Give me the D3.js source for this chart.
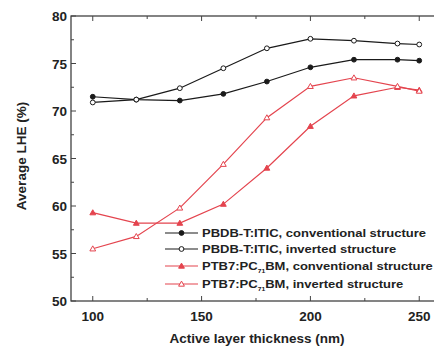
<!DOCTYPE html>
<html>
<head>
<meta charset="utf-8">
<script src="https://cdn.jsdelivr.net/npm/d3@7"></script>
<style>
  html, body { margin: 0; padding: 0; background: #fff; }
  svg { display: block; overflow: hidden; }
</style>
</head>
<body>
<div id="chart"></div>
<script>
const thickness = [100, 120, 140, 160, 180, 200, 220, 240, 250];
const pbdbConventional = [71.5, 71.2, 71.1, 71.8, 73.1, 74.6, 75.4, 75.4, 75.3];
const pbdbInverted = [70.9, 71.2, 72.4, 74.5, 76.6, 77.6, 77.4, 77.1, 77.0];
const ptb7Conventional = [59.3, 58.2, 58.2, 60.2, 64.0, 68.4, 71.6, 72.5, 72.2];
const ptb7Inverted = [55.5, 56.8, 59.8, 64.4, 69.3, 72.6, 73.5, 72.6, 72.1];
const xTicks = [100, 150, 200, 250];
const yTicks = [50, 55, 60, 65, 70, 75, 80];

const series = [
  { name: 'PBDB-T:ITIC, conventional structure', values: pbdbConventional, color: '#1a1a1a', marker: 'circle', filled: true },
  { name: 'PBDB-T:ITIC, inverted structure', values: pbdbInverted, color: '#1a1a1a', marker: 'circle', filled: false },
  { name: 'PTB7:PC71BM, conventional structure', values: ptb7Conventional, color: '#e4444e', marker: 'triangle', filled: true },
  { name: 'PTB7:PC71BM, inverted structure', values: ptb7Inverted, color: '#e4444e', marker: 'triangle', filled: false }
];

const W = 434, H = 346;
const plot = { left: 71, top: 16, right: 441, bottom: 301 };
const textColor = '#222';
const font = '"Liberation Sans", Arial, sans-serif';

const svg = d3.select('#chart').append('svg')
  .attr('width', W)
  .attr('height', H);

const x = d3.scaleLinear().domain([90, 260]).range([plot.left, plot.right]);
const y = d3.scaleLinear().domain([50, 80]).range([plot.bottom, plot.top]);

// frame
svg.append('rect')
  .attr('x', plot.left).attr('y', plot.top)
  .attr('width', plot.right - plot.left).attr('height', plot.bottom - plot.top)
  .attr('fill', 'none').attr('stroke', '#333').attr('stroke-width', 1.2);

// inward ticks, major + minor
const xMinor = [125, 175, 225];
const yMinor = [52.5, 57.5, 62.5, 67.5, 72.5, 77.5];
const tickG = svg.append('g').attr('stroke', '#444').attr('stroke-width', 1);
xTicks.forEach(v => {
  tickG.append('line').attr('x1', x(v)).attr('x2', x(v)).attr('y1', plot.bottom).attr('y2', plot.bottom - 5);
  tickG.append('line').attr('x1', x(v)).attr('x2', x(v)).attr('y1', plot.top).attr('y2', plot.top + 5);
});
xMinor.forEach(v => {
  tickG.append('line').attr('x1', x(v)).attr('x2', x(v)).attr('y1', plot.bottom).attr('y2', plot.bottom - 3);
  tickG.append('line').attr('x1', x(v)).attr('x2', x(v)).attr('y1', plot.top).attr('y2', plot.top + 3);
});
yTicks.forEach(v => {
  tickG.append('line').attr('x1', plot.left).attr('x2', plot.left + 5).attr('y1', y(v)).attr('y2', y(v));
});
yMinor.forEach(v => {
  tickG.append('line').attr('x1', plot.left).attr('x2', plot.left + 3).attr('y1', y(v)).attr('y2', y(v));
});

// tick labels
svg.append('g').selectAll('text')
  .data(xTicks).enter().append('text')
  .attr('x', d => x(d)).attr('y', plot.bottom + 20)
  .attr('text-anchor', 'middle')
  .style('font-family', font).style('font-size', '13.5px').style('font-weight', 'bold')
  .style('fill', textColor)
  .text(d => d);

svg.append('g').selectAll('text')
  .data(yTicks).enter().append('text')
  .attr('x', plot.left - 4).attr('y', d => y(d) + 5)
  .attr('text-anchor', 'end')
  .style('font-family', font).style('font-size', '13.5px').style('font-weight', 'bold')
  .style('fill', textColor)
  .text(d => d);

// axis titles
svg.append('text')
  .attr('x', 257).attr('y', 343)
  .attr('text-anchor', 'middle')
  .style('font-family', font).style('font-size', '13.5px').style('font-weight', 'bold')
  .style('fill', textColor)
  .text('Active layer thickness (nm)');

svg.append('text')
  .attr('transform', 'translate(26,156) rotate(-90)')
  .attr('text-anchor', 'middle')
  .style('font-family', font).style('font-size', '13.5px').style('font-weight', 'bold')
  .style('fill', textColor)
  .text('Average LHE (%)');

// markers
function drawMarker(g, s, cx, cy) {
  const fill = s.filled ? s.color : '#fff';
  if (s.marker === 'circle') {
    g.append('circle').attr('cx', cx).attr('cy', cy).attr('r', 2.4)
      .attr('fill', fill).attr('stroke', s.color).attr('stroke-width', 1);
  } else {
    const r = 2.9;
    g.append('path')
      .attr('d', `M${cx},${cy - r}L${cx + r},${cy + r * 0.75}L${cx - r},${cy + r * 0.75}Z`)
      .attr('fill', fill).attr('stroke', s.color).attr('stroke-width', 1);
  }
}

const line = d3.line().x(d => x(d[0])).y(d => y(d[1]));

series.forEach(s => {
  const pts = thickness.map((t, i) => [t, s.values[i]]);
  const g = svg.append('g');
  g.append('path').datum(pts)
    .attr('d', line)
    .attr('fill', 'none').attr('stroke', s.color).attr('stroke-width', 1.2);
  pts.forEach(p => drawMarker(g, s, x(p[0]), y(p[1])));
});

// legend
const legendRows = [233, 249, 266, 284];
const lg = svg.append('g');
series.forEach((s, i) => {
  const ly = legendRows[i];
  lg.append('line').attr('x1', 165).attr('x2', 198).attr('y1', ly).attr('y2', ly)
    .attr('stroke', s.color).attr('stroke-width', 1.2);
  drawMarker(lg, s, 181.5, ly);
  const t = lg.append('text')
    .attr('transform', `translate(202,${ly + 4}) scale(1.24,1)`)
    .style('font-family', font).style('font-size', '10.5px').style('font-weight', 'bold')
    .style('fill', textColor);
  if (s.name.startsWith('PTB7')) {
    const rest = s.name.replace('PTB7:PC71BM', '');
    t.append('tspan').text('PTB7:PC');
    t.append('tspan').attr('dy', 3).style('font-size', '5.5px').text('71');
    t.append('tspan').attr('dy', -3).text('BM' + rest);
  } else {
    t.text(s.name);
  }
});
</script>
</body>
</html>
